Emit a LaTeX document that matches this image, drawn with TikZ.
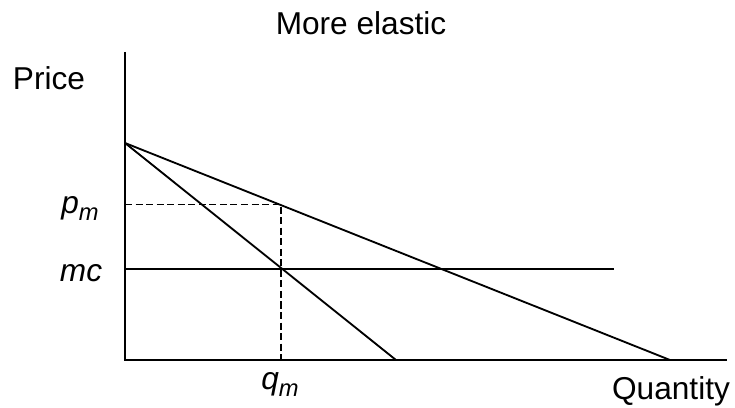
\documentclass[tikz,border=0pt]{standalone}
\usepackage{fontspec}
\setmainfont{Liberation Sans}
\usepackage{tikz}
\usetikzlibrary{positioning, calc}

\newcommand{\subm}{\raisebox{-0.22em}{\fontsize{13.5}{14}\selectfont\textit{m}}}

\begin{document}
\begin{tikzpicture}[x=0.02cm, y=-0.02cm,
    axis/.style={line width=1.7pt},
    curve/.style={line width=1.05pt},
    guide/.style={line width=1pt, dash pattern=on 4pt off 2pt},
    lbl/.style={font=\fontsize{18}{21}\selectfont, inner sep=0pt, anchor=base}]
    \useasboundingbox (0,0) rectangle (735,408);

    % axes
    \coordinate (O) at (125,360);
    \coordinate (ytop) at (125,52);
    \coordinate (xend) at (727,360);
    \draw[axis] (ytop) -- (O) -- (xend);

    % demand and marginal revenue
    \coordinate (A) at (125,143);
    \coordinate (Dend) at (670,360);
    \coordinate (MRend) at (396,360);
    \draw[curve] (A) -- (Dend);
    \draw[curve] (A) -- (MRend);

    % marginal cost
    \coordinate (mcL) at (125,269);
    \coordinate (mcR) at (614,269);
    \draw[line width=0.85pt] (mcL) -- (mcR);

    % monopoly point
    \coordinate (pmL) at (125,204.5);
    \coordinate (M) at (281,204.5);
    \coordinate (qmB) at (281,360);
    \draw[guide] (pmL) -- (M) -- (qmB);

    % labels
    \node[lbl] (title) at (361,35) {More elastic};
    \node[lbl] (price) at (49,90) {Price};
    \node[lbl] (quantity) at (671,400) {Quantity};
    \node[lbl] (pm) at (80,214) {\textit{p}\subm};
    \node[lbl] (mc) at (81,282) {\textit{mc}};
    \node[lbl] (qm) at (280,390) {\textit{q}\subm};
\end{tikzpicture}
\end{document}
